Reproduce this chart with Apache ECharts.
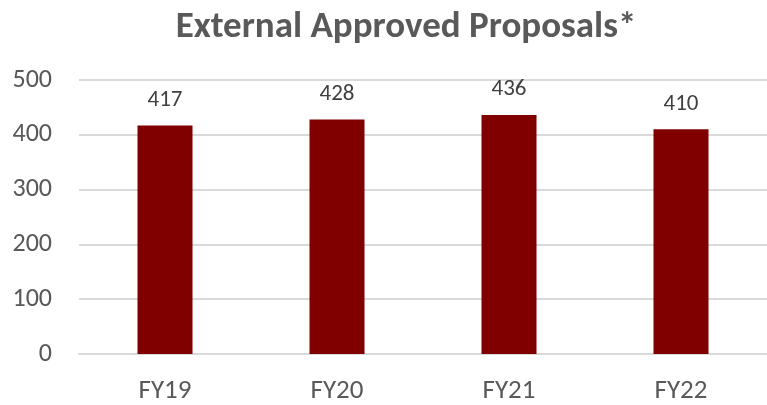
<!DOCTYPE html>
<html>
<head>
<meta charset="utf-8">
<script src="https://cdn.jsdelivr.net/npm/echarts@6/dist/echarts.min.js"></script>
<style>
  html, body { margin: 0; padding: 0; background: #fff; }
  #chart { width: 767px; height: 405px; }
</style>
</head>
<body>
<div id="chart"></div>
<script>
// 数据
const categories = ['FY19', 'FY20', 'FY21', 'FY22'];
const proposals = [417, 428, 436, 410];
const yTicks = [0, 100, 200, 300, 400, 500];

const font = 'Carlito, Lato, "Open Sans", sans-serif';
const chart = echarts.init(document.getElementById('chart'), null, { renderer: 'canvas' });

chart.setOption({
    animation: false,
    title: {
        text: 'External Approved Proposals*',
        left: 401,
        top: 4,
        textAlign: 'center',
        textStyle: { fontFamily: font, fontSize: 37, fontWeight: 'bold', color: '#595959' }
    },
    grid: { left: 79, top: 80, width: 701, height: 276.5, containLabel: false },
    xAxis: {
        type: 'category',
        data: categories,
        axisLine: { lineStyle: { color: '#d9d9d9', width: 2 } },
        axisTick: { show: false },
        axisLabel: { fontFamily: font, fontSize: 27, color: '#595959', margin: 24 }
    },
    yAxis: {
        type: 'value',
        min: yTicks[0],
        max: yTicks[yTicks.length - 1],
        interval: 100,
        axisLine: { show: false },
        axisTick: { show: false },
        splitLine: { lineStyle: { color: '#d9d9d9', width: 2 } },
        axisLabel: { fontFamily: font, fontSize: 26, color: '#595959', margin: 27 }
    },
    series: [{
        type: 'bar',
        data: proposals,
        barWidth: 55,
        itemStyle: { color: '#800000' },
        label: {
            show: true,
            position: 'top',
            distance: 14,
            fontFamily: font,
            fontSize: 23,
            color: '#404040'
        }
    }]
});
</script>
</body>
</html>
